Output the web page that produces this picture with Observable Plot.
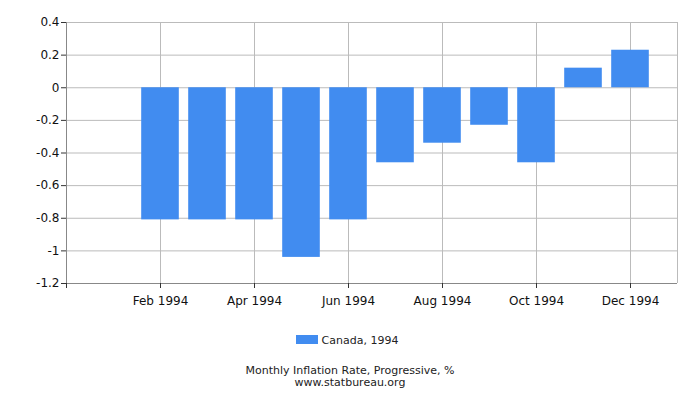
<!DOCTYPE html>
<html>
<head>
<meta charset="utf-8">
<script src="https://cdn.jsdelivr.net/npm/d3@7"></script>
<script src="https://cdn.jsdelivr.net/npm/@observablehq/plot@0.6"></script>
<style>
  html, body { margin: 0; padding: 0; background: #fff; }
  body { width: 700px; height: 400px; font-family: "DejaVu Sans", sans-serif; position: relative; overflow: hidden; }
  #chart svg { display: block; }
  .legend { position: absolute; top: 334px; left: -3px; width: 700px; text-align: center; font-size: 11px; line-height: 13px; color: #222; }
  .legend .sw { display: inline-block; width: 22px; height: 9px; background: #418CF0; margin-right: 4px; vertical-align: 0px; }
  .t1, .t2 { position: absolute; left: 0; width: 700px; text-align: center; font-size: 11px; line-height: 11px; color: #222; }
  .t1 { top: 365px; }
  .t2 { top: 377px; }
</style>
</head>
<body>
<div id="chart"></div>
<div class="legend"><span class="sw"></span>Canada, 1994</div>
<div class="t1">Monthly Inflation Rate, Progressive, %</div>
<div class="t2">www.statbureau.org</div>
<script>
const monthNumbers = [2, 3, 4, 5, 6, 7, 8, 9, 10, 11, 12];
const values = [-0.81, -0.81, -0.81, -1.04, -0.81, -0.46, -0.34, -0.23, -0.46, 0.12, 0.23];
const xTickPositions = [2, 4, 6, 8, 10, 12];
const xTickLabels = ["Feb 1994", "Apr 1994", "Jun 1994", "Aug 1994", "Oct 1994", "Dec 1994"];
const yTicks = [-1.2, -1, -0.8, -0.6, -0.4, -0.2, 0, 0.2, 0.4];

const data = monthNumbers.map((m, i) => ({m, v: values[i]}));
const labelOf = new Map(xTickPositions.map((p, i) => [p, xTickLabels[i]]));
const gridX = [0, ...xTickPositions, 13];

const chart = Plot.plot({
  width: 700,
  height: 310,
  marginLeft: 66,
  marginRight: 23,
  marginTop: 22,
  marginBottom: 27,
  style: {fontFamily: "DejaVu Sans, sans-serif", fontSize: "12px", color: "#111", background: "#fff"},
  x: {domain: [0, 13], axis: null},
  y: {domain: [-1.2, 0.4], axis: null},
  marks: [
    Plot.ruleY(yTicks, {stroke: "#bbb", strokeWidth: 1}),
    Plot.ruleX(gridX, {stroke: "#bbb", strokeWidth: 1}),
    Plot.rectY(data, {x1: d => d.m - 0.4, x2: d => d.m + 0.4, y1: 0, y2: "v", fill: "#418CF0"}),
    Plot.ruleX([0], {stroke: "#888", strokeWidth: 1}),
    Plot.ruleY([-1.2], {stroke: "#888", strokeWidth: 1}),
    Plot.axisY({ticks: yTicks, tickSize: 5, tickPadding: 2, stroke: "#333", fill: "#111", label: null,
      tickFormat: d => String(+d.toFixed(1)), fontSize: 12}),
    Plot.axisX({ticks: [0, ...xTickPositions], tickSize: 5, tickPadding: 8, stroke: "#333", fill: "#111", label: null,
      tickFormat: d => labelOf.get(d) || "", fontSize: 12})
  ]
});
document.getElementById("chart").appendChild(chart);
</script>
</body>
</html>
